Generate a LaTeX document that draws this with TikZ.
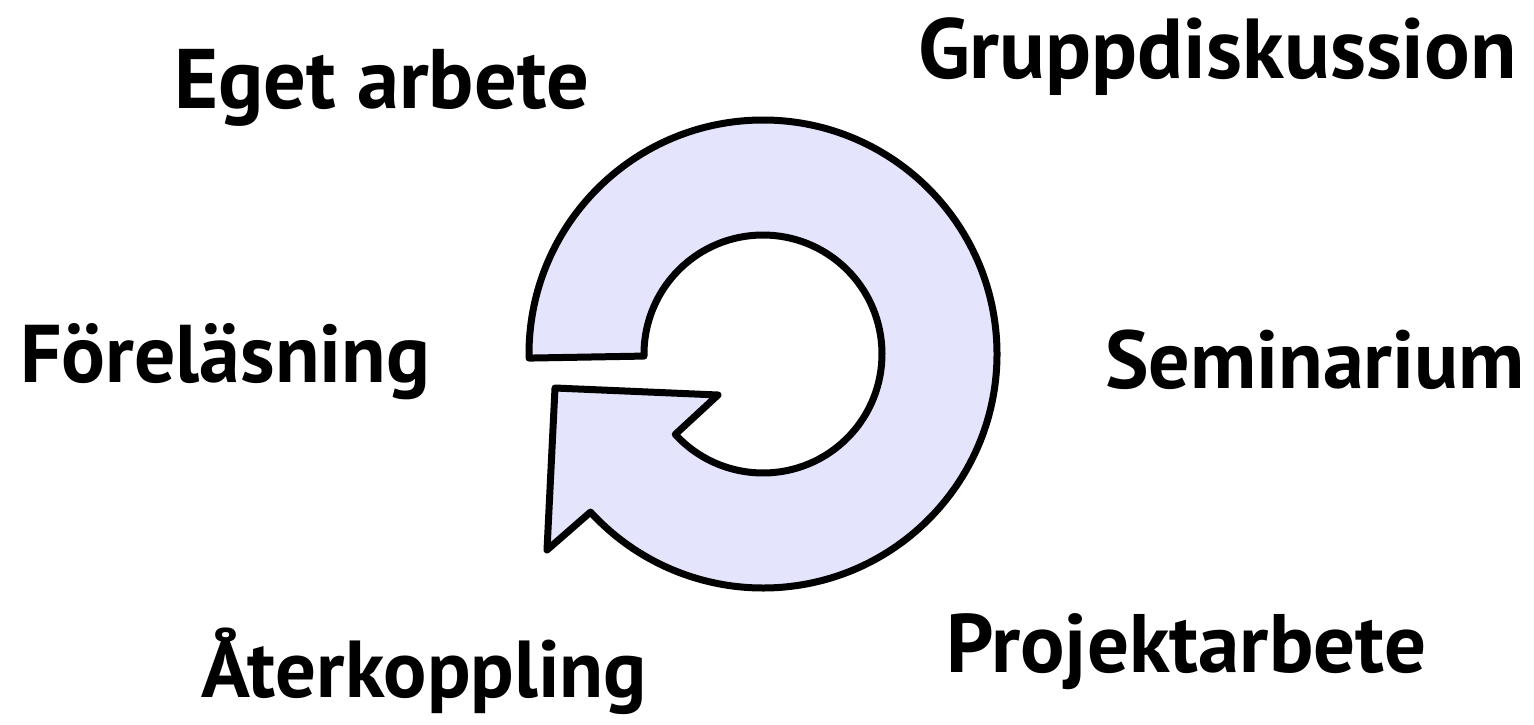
\documentclass[tikz,border=0pt]{standalone}
\usepackage{fontspec}
\usepackage{graphicx}
\usetikzlibrary{calc}
\setmainfont{PT Sans}
\definecolor{ringfill}{RGB}{228,228,252}
\tikzset{
  lbl/.style={anchor=base west, inner sep=0pt, outer sep=0pt, font=\bfseries},
  ring/.style={draw=black, fill=ringfill, line width=7pt, line join=round}
}
\begin{document}
\begin{tikzpicture}[x=1pt,y=-1pt]
\useasboundingbox (0,0) rectangle (1534,725);
% circular arrow
\coordinate (c) at (763,354);
\coordinate (tl) at (555,388);
\coordinate (barb) at (718,395);
\coordinate (bl) at (547,550);
\draw[ring] ($(c)+(179:234)$) arc[start angle=179, end angle=497.5, radius=234]
  -- (bl) -- (tl) -- (barb) -- ($(c)+(137.5:119)$)
  arc[start angle=497.5, end angle=179, radius=119] -- cycle;
% labels
\node[lbl] (eget)  at (174,108) {\resizebox{415pt}{!}{Eget arbete}};
\node[lbl] (grupp) at (918,78)  {\resizebox{599pt}{!}{Gruppdiskussion}};
\node[lbl] (forel) at (20,382)  {\resizebox{410pt}{!}{Föreläsning}};
\node[lbl] (semin) at (1105,388){\resizebox{420pt}{!}{Seminarium}};
\node[lbl] (ater)  at (201,697) {\resizebox{446pt}{!}{Återkoppling}};
\node[lbl] (proj)  at (946,672) {\resizebox{480pt}{!}{Projektarbete}};
\end{tikzpicture}
\end{document}
